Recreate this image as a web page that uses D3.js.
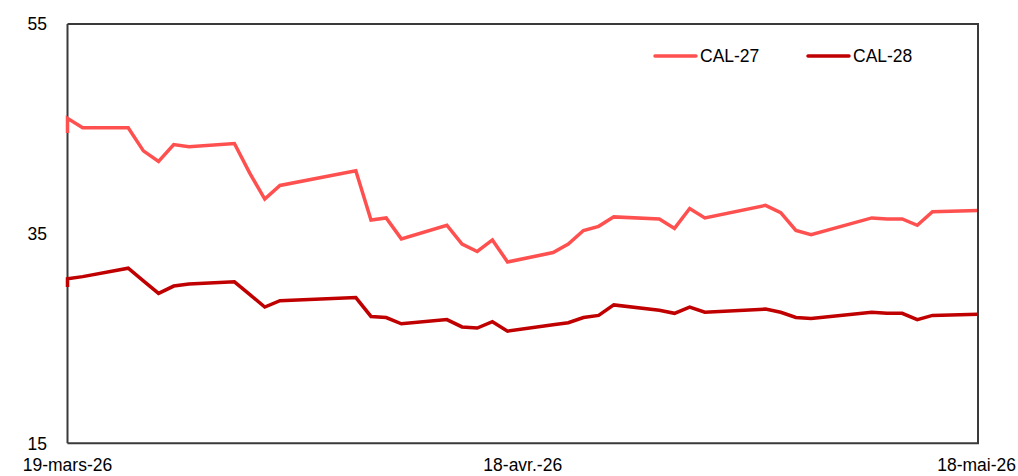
<!DOCTYPE html>
<html>
<head>
<meta charset="utf-8">
<script src="https://cdn.jsdelivr.net/npm/d3@7"></script>
<style>
  html, body { margin: 0; padding: 0; background: #fff; }
  svg { display: block; font-family: "Liberation Sans", Arial, sans-serif; }
</style>
</head>
<body>
<svg id="chart" width="1018" height="476"></svg>
<script>
// ---- Data ----
const dates = [
  "2026-03-18","2026-03-19","2026-03-20","2026-03-23","2026-03-24","2026-03-25","2026-03-26","2026-03-27",
  "2026-03-30","2026-03-31","2026-04-01","2026-04-02","2026-04-07","2026-04-08","2026-04-09","2026-04-10",
  "2026-04-13","2026-04-14","2026-04-15","2026-04-16","2026-04-17","2026-04-20","2026-04-21","2026-04-22",
  "2026-04-23","2026-04-24","2026-04-27","2026-04-28","2026-04-29","2026-04-30","2026-05-04","2026-05-05",
  "2026-05-06","2026-05-07","2026-05-11","2026-05-12","2026-05-13","2026-05-14","2026-05-15","2026-05-18"
];
const cal27 = [
  44.6, 46.0, 45.1, 45.1, 42.9, 41.9, 43.5, 43.3,
  43.6, 40.8, 38.3, 39.6, 41.0, 36.3, 36.5, 34.5,
  35.8, 34.0, 33.3, 34.4, 32.3, 33.2, 34.0, 35.3,
  35.7, 36.6, 36.4, 35.5, 37.4, 36.5, 37.7, 37.0,
  35.3, 34.9, 36.5, 36.4, 36.4, 35.8, 37.1, 37.2
];
const cal28 = [
  29.9, 30.7, 30.9, 31.7, 30.5, 29.3, 30.0, 30.2,
  30.4, 29.2, 28.0, 28.6, 28.9, 27.1, 27.0, 26.4,
  26.8, 26.1, 26.0, 26.6, 25.7, 26.3, 26.5, 27.0,
  27.2, 28.2, 27.7, 27.4, 28.0, 27.5, 27.8, 27.5,
  27.0, 26.9, 27.5, 27.4, 27.4, 26.8, 27.2, 27.3
];
const seriesNames = ["CAL-27", "CAL-28"];
const seriesColors = ["#FF5050", "#C00000"];
const yTicks = [15, 35, 55];
const xTickDates = ["2026-03-19", "2026-04-18", "2026-05-18"];
const xTickLabels = ["19-mars-26", "18-avr.-26", "18-mai-26"];

// ---- Layout ----
const svg = d3.select("#chart");
const plotLeft = 67.5, plotRight = 978, plotTop = 24, plotBottom = 443.3;
const W = 1018;

const parse = d3.utcParse("%Y-%m-%d");
const x = d3.scaleUtc()
  .domain([parse("2026-03-19"), parse("2026-05-18")])
  .range([plotLeft, plotRight])
  .clamp(true);
const y = d3.scaleLinear().domain([15, 55]).range([plotBottom, plotTop]);

const series = [cal27, cal28].map((vals, i) => ({
  name: seriesNames[i],
  color: seriesColors[i],
  points: vals.map((v, j) => ({ d: parse(dates[j]), v }))
}));

const line = d3.line().x(p => x(p.d)).y(p => y(p.v));

// left axis line
svg.append("line")
  .attr("x1", plotLeft).attr("x2", plotLeft).attr("y1", plotTop).attr("y2", plotBottom)
  .attr("stroke", "#3a3a3a").attr("stroke-width", 2);

// lines
svg.append("g").selectAll("path").data(series).join("path")
  .attr("d", s => line(s.points))
  .attr("fill", "none")
  .attr("stroke", s => s.color)
  .attr("stroke-width", 3.5)
  .attr("stroke-linejoin", "miter")
  .attr("stroke-linecap", "butt");

// frame (top, right, bottom)
svg.append("path")
  .attr("d", `M${plotLeft},${plotTop}H${plotRight}V${plotBottom}H${plotLeft}`)
  .attr("fill", "none")
  .attr("stroke", "#3a3a3a")
  .attr("stroke-width", 2);

// y tick labels
svg.append("g").selectAll("text").data(yTicks).join("text")
  .attr("x", 47)
  .attr("y", d => y(d))
  .attr("dy", "0.36em")
  .attr("text-anchor", "end")
  .attr("font-size", 17.5)
  .attr("fill", "#000")
  .text(d => d);

// x tick labels (kept inside the canvas)
const xl = svg.append("g").selectAll("text").data(xTickDates).join("text")
  .attr("y", 471)
  .attr("font-size", 17.5)
  .attr("fill", "#000")
  .text((d, i) => xTickLabels[i]);
xl.each(function(d) {
  const t = d3.select(this);
  const w = this.getComputedTextLength();
  let cx = x(parse(d));
  cx = Math.min(cx, W - 2 - w / 2);
  cx = Math.max(cx, 2 + w / 2);
  t.attr("x", cx).attr("text-anchor", "middle");
});

// legend
const legendX = [655, 808];
const lg = svg.append("g").selectAll("g").data(series).join("g")
  .attr("transform", (d, i) => `translate(${legendX[i]},56)`);
lg.append("line")
  .attr("x1", 0).attr("x2", 41).attr("y1", 0).attr("y2", 0)
  .attr("stroke", d => d.color).attr("stroke-width", 3.5)
  .attr("stroke-linecap", "round");
lg.append("text")
  .attr("x", 45).attr("y", 0).attr("dy", "0.36em")
  .attr("font-size", 17.5).attr("fill", "#000")
  .text(d => d.name);
</script>
</body>
</html>
